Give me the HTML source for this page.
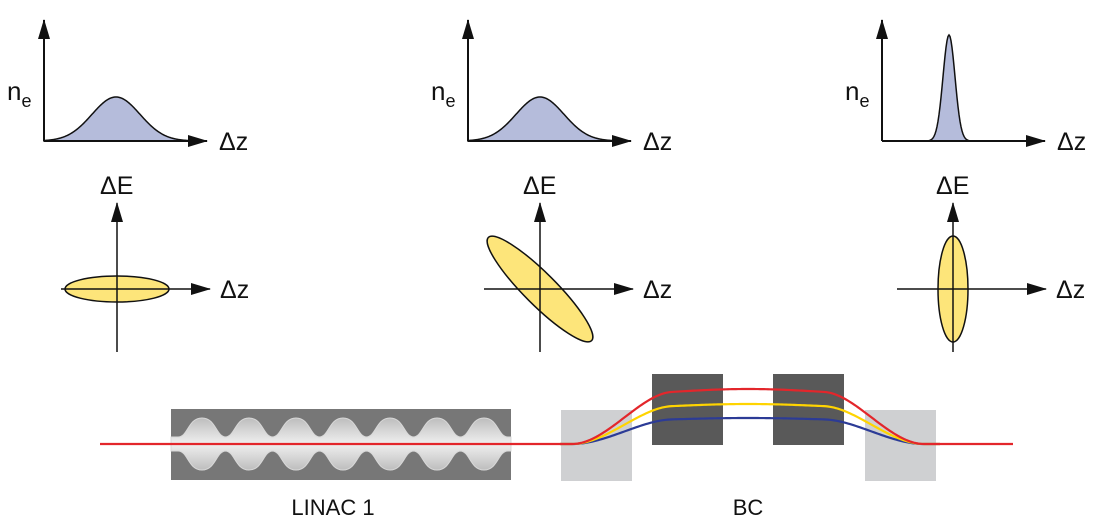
<!DOCTYPE html>
<html><head><meta charset="utf-8"><style>
html,body{margin:0;padding:0;background:#fff;}
svg{display:block;font-family:"Liberation Sans",sans-serif;}
</style></head><body>
<svg id="s" width="1098" height="525" viewBox="0 0 1098 525" xmlns="http://www.w3.org/2000/svg">
<defs>
<marker id="ar2" markerWidth="20" markerHeight="12" refX="19" refY="6" orient="auto" markerUnits="userSpaceOnUse"><path d="M0,0 L20,6 L0,12 Z" fill="#111"/></marker>
<linearGradient id="cg" x1="0" y1="0" x2="0" y2="1">
<stop offset="0" stop-color="#bdbdbd"/><stop offset="0.5" stop-color="#f0f0f0"/><stop offset="1" stop-color="#bdbdbd"/></linearGradient>
</defs>
<g id="gtop"></g>
<g id="gmid"></g>
<g id="gbot"></g>
</svg>
<script>
const NS="http://www.w3.org/2000/svg";
// bunch profiles: center x, peak height (px above axis), sigma (px)
const profCenters=[116,540,949];
const profHeights=[44,44,106];
const profSigmas=[24,24,6];
// phase space ellipses: rx, ry, rotation (deg)
const ellRx=[52,73,15];
const ellRy=[13,16,53];
const ellRot=[0,45,0];
// BC trajectory heights (px above beamline) for red, yellow, blue
const trajHeights=[55,40,26];
const trajColors=["#e3262b","#ffd400","#2c3b96"];
const axisX=[44,468,882];

function el(tag,attrs,parent){const e=document.createElementNS(NS,tag);for(const k in attrs)e.setAttribute(k,attrs[k]);parent.appendChild(e);return e;}
const gTop=document.getElementById('gtop'),gMid=document.getElementById('gmid'),gBot=document.getElementById('gbot');
const base=141;
for(let i=0;i<3;i++){
  const ax=axisX[i];
  let d=`M${ax},${base}`;
  for(let x=ax;x<=ax+150;x+=1){const y=base-profHeights[i]*Math.exp(-Math.pow(x-profCenters[i],2)/(2*profSigmas[i]*profSigmas[i]));d+=` L${x},${y.toFixed(2)}`;}
  d+=` L${ax+150},${base} Z`;
  const p=el('path',{d:d,fill:"#b5bcdb",stroke:"#111","stroke-width":1.5},gTop);
  
  
  const ya=el('line',{x1:ax,y1:base,x2:ax,y2:20,stroke:"#111","stroke-width":2,"marker-end":"url(#ar2)"},gTop);
  
  
  const xa=el('line',{x1:ax,y1:base,x2:ax+163,y2:base,stroke:"#111","stroke-width":2,"marker-end":"url(#ar2)"},gTop);
  
  
  const t=el('text',{x:ax-37,y:100,"font-size":26,fill:"#111"},gTop);
  
  
  const ts1=el('tspan',{},t); ts1.textContent='n';
  const ts2=el('tspan',{"font-size":18,dy:7},t); ts2.textContent='e';
  const t2=el('text',{x:ax+175,y:150,"font-size":25,fill:"#111"},gTop);
  t2.textContent='Δz';
  
  
  const cx=[117,540,953][i],cy=289;
  const e=el('ellipse',{cx:cx,cy:cy,rx:ellRx[i],ry:ellRy[i],transform:`rotate(${ellRot[i]} ${cx} ${cy})`,fill:"#fde57a",stroke:"#111","stroke-width":1.5},gMid);
  
  
  const v=el('line',{x1:cx,y1:352,x2:cx,y2:203,stroke:"#111","stroke-width":1.5,"marker-end":"url(#ar2)"},gMid);
  
  
  const h=el('line',{x1:cx-56,y1:cy,x2:cx+93,y2:cy,stroke:"#111","stroke-width":1.5,"marker-end":"url(#ar2)"},gMid);
  
  
  const t3=el('text',{x:cx-17,y:194,"font-size":25,fill:"#111"},gMid);
  t3.textContent='ΔE';
  
  
  const t4=el('text',{x:cx+103,y:298,"font-size":25,fill:"#111"},gMid);
  t4.textContent='Δz';
  
  
}
const lin=el('rect',{x:171,y:409,width:340,height:71,fill:"#777"},gBot);


let cd="M171,437";
const p0=186,per=47;
for(let k=0;k<7;k++){const a=p0+k*per;cd+=` L${a-8},437 C${a+2},437 ${a+2},418 ${a+16},418 C${a+30},418 ${a+30},437 ${a+40},437`;}
cd+=" L511,437 L511,451";
for(let k=6;k>=0;k--){const a=p0+k*per;cd+=` L${a+40},451 C${a+30},451 ${a+30},470 ${a+16},470 C${a+2},470 ${a+2},451 ${a-8},451`;}
cd+=" L171,451 Z";
const cv=el('path',{d:cd,fill:"url(#cg)",stroke:"#d8d8d8","stroke-width":1},gBot);


[[561,410,"#cfd0d2","bc-magnet-1"],[652,374,"#595959","bc-magnet-2"],[773,374,"#595959","bc-magnet-3"],[865,410,"#cfd0d2","bc-magnet-4"]].forEach(m=>{
  const r=el('rect',{x:m[0],y:m[1],width:71,height:71,fill:m[2]},gBot);
  
  
});
const by=444;
function sstep(t){t=Math.max(0,Math.min(1,t));return t*t*(3-2*t);}
for(let j=trajHeights.length-1;j>=0;j--){
  let d=`M${j==0?100:560},${by}`;
  for(let x=560;x<=940;x+=2){
    const env=Math.min(sstep((x-572)/100),sstep((924-x)/100));
    const shape=0.86+0.14*Math.exp(-Math.pow((x-748)/110,2));
    const y=by-trajHeights[j]*env*shape;
    d+=` L${x},${y.toFixed(2)}`;
  }
  if(j==0)d+=` L1013,${by}`;
  const p=el('path',{d:d,fill:"none",stroke:trajColors[j],"stroke-width":2.2},gBot);
  
  
}
const l1=el('text',{x:333,y:515,"font-size":22,"text-anchor":"middle",fill:"#111"},gBot);
l1.textContent='LINAC 1';


const l2=el('text',{x:748,y:515,"font-size":22,"text-anchor":"middle",fill:"#111"},gBot);
l2.textContent='BC';


</script>
</body></html>
